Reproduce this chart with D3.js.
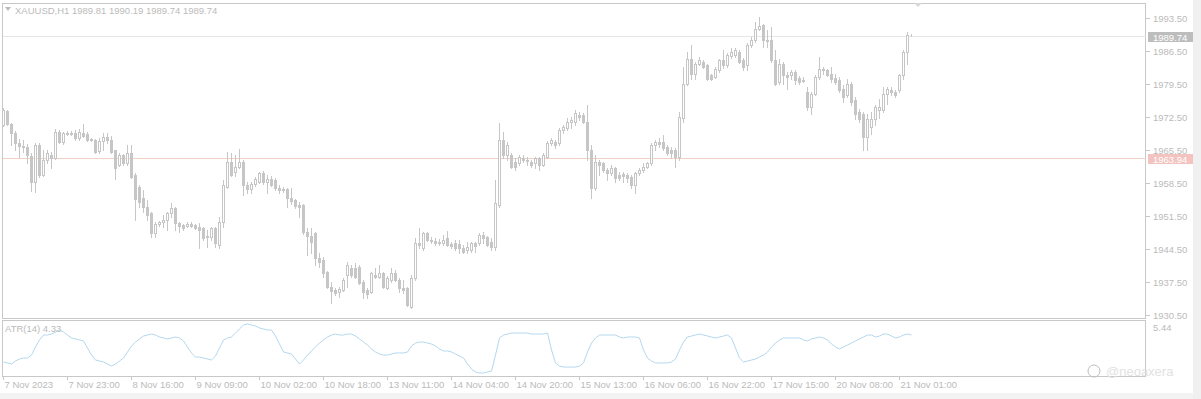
<!DOCTYPE html>
<html><head><meta charset="utf-8">
<script src="https://cdn.jsdelivr.net/npm/d3@7"></script>
<style>html,body{margin:0;padding:0;background:#fff;overflow:hidden}svg{display:block;font-family:"Liberation Sans",Arial,sans-serif}</style>
</head><body><svg id="c" width="1201" height="399"></svg>
<script>
const open=[1970.87,1973.84,1971.08,1969.17,1967.05,1966.41,1966.20,1964.29,1958.78,1966.62,1960.26,1963.44,1964.50,1963.87,1969.38,1967.26,1969.17,1968.96,1969.17,1968.11,1969.17,1968.96,1967.69,1967.69,1965.35,1967.47,1968.32,1967.69,1965.56,1962.38,1964.50,1962.81,1964.93,1960.26,1957.72,1955.38,1953.48,1952.20,1947.96,1949.87,1950.29,1950.72,1952.20,1953.26,1950.08,1949.66,1949.45,1949.87,1949.66,1949.23,1949.02,1947.11,1947.11,1949.02,1945.41,1950.29,1957.72,1963.02,1960.90,1961.96,1963.02,1958.14,1957.29,1958.35,1958.78,1960.69,1958.78,1959.41,1959.20,1957.51,1957.29,1957.29,1955.38,1954.96,1953.90,1953.90,1948.17,1947.32,1947.96,1942.66,1942.23,1939.69,1936.51,1935.87,1935.45,1935.87,1939.05,1940.54,1940.54,1940.75,1937.57,1935.87,1935.45,1939.05,1938.63,1939.47,1936.30,1937.99,1939.47,1937.99,1936.30,1936.30,1932.27,1938.42,1945.84,1944.78,1947.96,1946.48,1946.26,1946.05,1945.84,1946.90,1945.63,1945.84,1945.63,1944.78,1944.36,1944.36,1945.84,1945.84,1947.54,1947.11,1946.05,1944.99,1953.90,1967.69,1964.50,1964.50,1963.02,1962.81,1963.87,1963.44,1963.02,1962.81,1963.87,1962.38,1964.08,1967.05,1967.26,1967.05,1969.81,1970.23,1971.50,1971.50,1972.99,1972.99,1971.50,1965.56,1957.51,1963.02,1962.81,1961.32,1960.69,1961.75,1960.26,1960.47,1960.26,1959.84,1958.14,1960.69,1961.32,1961.96,1962.81,1966.62,1967.26,1967.26,1966.20,1965.56,1965.56,1964.08,1972.35,1979.56,1984.87,1981.68,1983.81,1984.23,1983.59,1981.47,1981.05,1982.53,1984.65,1983.59,1985.50,1985.71,1986.35,1984.65,1983.59,1987.84,1988.90,1991.23,1992.08,1988.90,1988.90,1984.65,1979.99,1983.81,1981.47,1981.47,1982.11,1980.84,1980.41,1977.87,1974.68,1977.44,1981.05,1982.75,1982.53,1981.68,1980.84,1980.41,1978.50,1977.23,1979.56,1976.17,1973.62,1973.20,1968.32,1970.44,1972.14,1974.05,1974.05,1977.44,1978.29,1977.87,1978.29,1981.47,1986.35,1989.81];
const high=[1974.47,1974.05,1971.29,1969.60,1967.90,1967.69,1966.84,1964.93,1967.05,1967.05,1965.56,1965.56,1965.14,1970.02,1969.81,1969.38,1969.60,1969.60,1969.81,1970.02,1971.08,1969.38,1968.11,1967.90,1968.11,1969.17,1969.17,1968.53,1965.56,1964.93,1964.72,1966.62,1966.62,1960.69,1958.14,1957.08,1954.96,1952.41,1950.29,1950.51,1951.78,1952.41,1954.32,1953.48,1950.29,1949.87,1950.29,1950.29,1949.87,1950.08,1949.23,1948.60,1949.23,1949.23,1951.35,1959.20,1965.14,1964.93,1964.50,1965.78,1963.44,1958.78,1958.78,1959.84,1960.90,1961.11,1960.26,1960.05,1959.63,1958.14,1957.72,1957.51,1957.51,1955.17,1954.54,1954.11,1949.02,1949.02,1948.17,1943.72,1942.87,1939.90,1937.57,1936.30,1936.51,1938.42,1941.81,1941.17,1941.60,1941.17,1937.99,1936.30,1939.69,1940.54,1941.17,1939.69,1938.84,1940.54,1940.11,1938.42,1937.99,1936.51,1939.05,1946.90,1949.02,1948.17,1948.17,1947.11,1946.90,1946.69,1947.54,1948.38,1946.05,1946.48,1946.48,1945.41,1946.05,1946.05,1946.05,1947.96,1948.17,1947.32,1946.90,1959.20,1971.29,1969.38,1967.26,1964.93,1963.87,1964.50,1964.50,1964.08,1963.44,1964.08,1964.08,1964.93,1967.47,1968.11,1967.69,1970.23,1970.87,1972.35,1972.56,1974.05,1973.62,1973.41,1975.11,1966.62,1964.50,1963.44,1963.02,1961.75,1962.38,1961.96,1960.90,1960.90,1960.69,1960.26,1960.90,1961.75,1962.81,1963.02,1967.05,1967.69,1968.11,1968.75,1966.62,1966.20,1965.99,1973.62,1983.17,1986.35,1987.84,1984.23,1985.29,1984.65,1983.81,1981.68,1983.17,1984.87,1986.78,1986.14,1987.20,1987.20,1986.78,1985.08,1988.26,1989.53,1992.71,1993.77,1992.29,1991.02,1991.65,1986.78,1984.87,1984.23,1982.11,1982.53,1982.53,1981.26,1981.05,1978.93,1977.87,1981.47,1985.29,1983.17,1982.75,1983.17,1981.68,1981.05,1979.35,1980.62,1979.99,1976.80,1974.26,1973.62,1973.20,1973.62,1975.11,1976.38,1978.93,1978.93,1978.93,1978.29,1981.68,1986.78,1990.59,1990.19];
const low=[1970.66,1970.87,1966.62,1965.56,1964.08,1965.14,1962.81,1956.87,1956.66,1959.84,1960.05,1962.81,1961.75,1963.66,1967.05,1966.84,1968.75,1968.75,1967.69,1967.69,1968.32,1967.47,1967.47,1964.93,1964.93,1965.56,1967.05,1964.93,1959.41,1962.17,1962.38,1962.38,1959.63,1950.72,1953.48,1952.41,1950.72,1947.11,1947.11,1949.45,1949.23,1948.60,1951.35,1948.60,1948.17,1948.60,1949.23,1949.23,1948.81,1944.78,1946.48,1944.99,1946.48,1944.99,1944.78,1949.23,1957.51,1960.05,1960.05,1961.75,1956.02,1956.45,1956.45,1957.93,1958.57,1958.35,1956.45,1957.93,1957.08,1956.45,1956.66,1953.48,1954.11,1953.26,1951.35,1947.75,1943.29,1943.72,1941.17,1940.75,1938.63,1936.30,1933.11,1934.81,1934.39,1935.66,1936.51,1938.63,1938.42,1937.15,1934.18,1934.18,1935.24,1938.42,1938.42,1936.30,1936.08,1937.57,1937.78,1935.45,1935.24,1932.48,1932.05,1937.99,1944.78,1944.36,1946.26,1945.84,1945.41,1945.41,1945.41,1945.20,1944.78,1944.36,1943.72,1943.72,1943.72,1943.93,1943.93,1945.41,1945.84,1945.20,1944.36,1944.36,1953.48,1963.87,1963.44,1961.75,1961.32,1962.38,1963.02,1962.38,1961.96,1961.75,1961.32,1962.17,1963.87,1966.62,1965.99,1966.62,1969.17,1969.81,1970.23,1970.87,1971.93,1971.29,1963.44,1955.38,1957.08,1960.26,1960.90,1959.20,1960.26,1958.78,1959.20,1958.78,1958.78,1957.51,1956.45,1960.26,1960.90,1961.75,1962.38,1965.56,1966.20,1965.56,1964.50,1963.87,1961.96,1963.44,1971.50,1979.35,1980.62,1980.62,1983.59,1982.96,1980.41,1980.41,1980.84,1982.11,1982.96,1983.17,1985.08,1985.29,1984.02,1982.53,1982.53,1987.41,1988.47,1991.02,1987.41,1987.41,1984.23,1979.35,1979.56,1979.56,1978.50,1980.62,1979.56,1979.56,1979.99,1974.05,1973.20,1977.23,1980.62,1981.68,1981.26,1979.99,1979.56,1977.87,1975.74,1976.80,1975.11,1972.14,1971.50,1965.56,1965.56,1968.96,1970.87,1972.35,1973.62,1975.32,1977.23,1976.80,1977.87,1980.62,1983.81,1989.74];
const close=[1974.05,1971.08,1969.17,1967.05,1966.41,1966.20,1964.50,1958.78,1966.62,1960.26,1963.44,1964.93,1963.87,1969.38,1967.26,1969.17,1968.96,1969.17,1968.11,1969.38,1968.53,1967.69,1967.90,1965.14,1967.47,1968.32,1967.69,1965.14,1961.75,1964.50,1962.81,1964.93,1959.84,1955.17,1954.54,1953.48,1951.78,1947.96,1949.87,1950.29,1950.72,1952.20,1953.26,1950.08,1949.45,1949.02,1949.87,1949.45,1949.02,1948.60,1946.90,1947.32,1949.02,1945.84,1950.29,1958.14,1963.02,1960.26,1961.96,1963.02,1958.14,1957.29,1958.35,1959.41,1960.69,1958.78,1959.41,1958.14,1957.51,1957.08,1957.08,1955.38,1954.75,1953.69,1953.48,1948.17,1947.32,1946.05,1942.66,1941.81,1939.47,1936.51,1935.66,1935.24,1936.08,1937.99,1941.17,1939.05,1938.63,1937.36,1935.45,1935.02,1939.47,1938.63,1939.47,1936.51,1938.42,1939.47,1937.99,1936.30,1935.87,1932.69,1938.42,1945.84,1945.41,1947.96,1946.48,1946.26,1945.84,1945.84,1946.48,1945.41,1945.20,1944.78,1944.78,1943.93,1944.99,1945.84,1945.20,1947.54,1946.90,1945.41,1944.99,1954.32,1967.69,1964.50,1966.62,1961.96,1961.96,1964.08,1963.44,1963.23,1962.38,1963.87,1962.38,1964.50,1967.05,1967.69,1966.62,1969.81,1970.44,1971.50,1971.93,1973.41,1972.56,1971.50,1965.56,1957.51,1963.02,1962.38,1961.32,1960.69,1961.75,1959.63,1959.63,1960.05,1959.63,1958.14,1960.69,1961.32,1961.96,1962.81,1966.62,1967.26,1966.84,1965.99,1964.93,1964.93,1964.08,1972.56,1979.56,1984.87,1981.68,1983.81,1984.65,1983.17,1980.62,1980.62,1982.75,1984.65,1983.59,1985.71,1986.35,1986.78,1984.23,1983.17,1987.84,1988.90,1991.23,1991.87,1988.90,1988.68,1984.65,1979.56,1983.81,1981.47,1981.05,1982.11,1980.41,1979.99,1980.20,1974.68,1977.44,1981.05,1982.75,1982.53,1981.47,1980.62,1979.99,1978.29,1976.80,1979.56,1975.74,1973.20,1972.14,1968.32,1972.14,1972.14,1974.68,1974.68,1977.44,1978.50,1977.87,1977.23,1981.47,1986.35,1989.96,1989.74];
const atr=[1.61,1.51,1.40,1.71,1.91,2.01,2.01,2.31,3.12,3.83,4.33,4.33,4.43,4.63,4.83,4.63,4.33,4.03,3.93,3.83,3.73,3.02,2.31,1.81,1.71,1.61,1.40,1.20,1.40,1.71,2.01,2.62,3.22,3.62,3.93,4.23,4.33,4.43,4.33,4.13,4.03,3.93,4.03,4.13,4.03,3.73,3.12,2.52,2.11,2.11,2.01,1.91,1.81,2.21,3.02,3.83,4.03,4.13,4.53,4.94,5.34,5.44,5.34,5.24,5.04,4.94,4.83,4.83,4.23,3.42,2.62,2.52,2.41,1.91,1.40,1.81,2.31,2.72,3.12,3.52,3.83,4.13,4.33,4.43,4.33,4.33,4.43,4.43,4.23,3.93,3.62,3.32,2.92,2.62,2.41,2.31,2.31,2.41,2.52,2.52,2.52,2.62,3.22,3.52,3.62,3.62,3.52,3.42,3.22,2.92,2.72,2.72,2.62,2.41,2.21,2.01,1.40,0.90,0.60,0.50,0.50,0.60,0.70,2.31,4.03,4.33,4.43,4.53,4.53,4.53,4.53,4.53,4.43,4.43,4.43,4.43,4.53,2.82,1.51,1.20,1.10,1.10,1.10,1.10,1.20,1.51,2.62,3.52,4.03,4.33,4.33,4.33,4.33,4.33,4.13,4.03,4.13,4.13,4.13,4.03,2.82,2.01,1.71,1.51,1.51,1.51,1.51,1.61,1.91,2.82,3.62,4.13,4.23,4.33,4.43,4.33,4.23,4.13,4.03,4.13,4.23,4.33,4.03,3.02,2.01,1.61,1.71,1.81,1.91,2.11,2.31,2.62,3.12,3.52,3.83,4.03,4.03,4.03,4.03,4.03,3.83,3.73,3.93,4.03,4.13,4.03,3.83,3.42,3.12,2.92,3.12,3.32,3.52,3.73,3.93,4.13,4.33,4.33,4.13,4.23,4.43,4.43,4.23,4.03,4.13,4.33,4.43,4.33];
const priceTicks=[1930.50,1937.50,1944.50,1951.50,1958.50,1965.50,1972.50,1979.50,1986.50,1993.50];
const timeLabels=["7 Nov 2023","7 Nov 23:00","8 Nov 16:00","9 Nov 09:00","10 Nov 02:00","10 Nov 18:00","13 Nov 11:00","14 Nov 04:00","14 Nov 20:00","15 Nov 13:00","16 Nov 06:00","16 Nov 22:00","17 Nov 15:00","20 Nov 08:00","21 Nov 01:00"];
const labelEvery=16;
const symbol="XAUUSD,H1", bid=1989.74, hline=1963.94, atrName="ATR(14)";
const watermark="@neoaxera";

const W=1201,H=399;
const L=2,R=1146,mTop=3,mBot=318,aTop=320,aBot=376;
const gray="#c6c6c6", txt="#bbbbbb";
const svg=d3.select("#c");
svg.append("rect").attr("width",W).attr("height",H).attr("fill","#ffffff");
svg.append("rect").attr("x",1193).attr("y",0).attr("width",8).attr("height",H).attr("fill","#f0f0f0");
svg.append("rect").attr("x",0).attr("y",393).attr("width",1193).attr("height",6).attr("fill","#f3f3f3");

const n=close.length;
const x=d3.scaleLinear().domain([0,1]).range([3.5,7.5]);
const y=d3.scaleLinear().domain([1930.5,1993.5]).range([315.3,18.3]);
const ya=d3.scaleLinear().domain(d3.extent(atr)).range([373,324]);
const idx=d3.range(n);

// frames
svg.append("rect").attr("x",L+0.5).attr("y",mTop+0.5).attr("width",R-L-1).attr("height",mBot-mTop).attr("fill","none").attr("stroke","#c8c8c8");
svg.append("rect").attr("x",L+0.5).attr("y",aTop+0.5).attr("width",R-L-1).attr("height",aBot-aTop).attr("fill","none").attr("stroke","#c8c8c8");

// horizontal lines
const yb=Math.round(y(bid))+0.5, yh=Math.round(y(hline))+0.5;
svg.append("line").attr("x1",L+1).attr("x2",R).attr("y1",yb).attr("y2",yb).attr("stroke","#e6e6e6");
svg.append("line").attr("x1",L+1).attr("x2",R).attr("y1",yh).attr("y2",yh).attr("stroke","#f0cfc4");

// price axis
const ax=svg.append("g").attr("font-size","9.5px").attr("fill",txt);
priceTicks.forEach(p=>{
  const yy=Math.round(y(p))+0.5;
  ax.append("line").attr("x1",R).attr("x2",R+4).attr("y1",yy).attr("y2",yy).attr("stroke","#c8c8c8");
  ax.append("text").attr("x",R+7).attr("y",yy+3).text(d3.format(".2f")(p));
});
// price labels
[[bid,"#bdbdbd"],[hline,"#f3c3c0"]].forEach(([p,c])=>{
  const yy=Math.round(y(p));
  svg.append("rect").attr("x",R+2).attr("y",yy-4).attr("width",45).attr("height",10).attr("fill",c);
  svg.append("text").attr("x",R+7).attr("y",yy+4.5).attr("font-size","9.5px").attr("fill","#ffffff").text(d3.format(".2f")(p));
});

// candles
const g=svg.append("g");
g.selectAll("line.w").data(idx).join("line").attr("class","w")
  .attr("x1",i=>x(i)).attr("x2",i=>x(i))
  .attr("y1",i=>Math.round(y(high[i]))).attr("y2",i=>Math.round(y(low[i]))+1)
  .attr("stroke",gray).attr("stroke-width",1);
g.selectAll("rect.b").data(idx).join("rect").attr("class","b")
  .attr("x",i=>x(i)-1).attr("width",2)
  .attr("y",i=>Math.round(y(Math.max(open[i],close[i])))+0.5)
  .attr("height",i=>Math.max(0,Math.round(y(Math.min(open[i],close[i])))-Math.round(y(Math.max(open[i],close[i])))))
  .attr("fill",i=>close[i]>=open[i]?"#ffffff":gray)
  .attr("stroke",gray).attr("stroke-width",1);

// ATR
svg.append("path").datum(idx).attr("fill","none").attr("stroke","#b3d8ee").attr("stroke-width",1)
  .attr("d",d3.line().x(i=>x(i)).y(i=>ya(atr[i])));
svg.append("text").attr("x",5).attr("y",332).attr("font-size","9.5px").attr("fill",txt).text(atrName+" "+atr[n-1].toFixed(2));
svg.append("text").attr("x",R+7).attr("y",331).attr("font-size","9.5px").attr("fill",txt).text(d3.max(atr).toFixed(2));

// time axis
const tg=svg.append("g").attr("font-size","9.5px").attr("fill",txt);
timeLabels.forEach((t,k)=>{
  const xx=x(k*labelEvery);
  tg.append("line").attr("x1",xx).attr("x2",xx).attr("y1",aBot).attr("y2",aBot+4).attr("stroke","#c8c8c8");
  tg.append("text").attr("x",xx+1).attr("y",388).text(t);
});

// header
svg.append("path").attr("d","M5,7 L11,7 L8,11 Z").attr("fill",txt);
svg.append("text").attr("x",15).attr("y",14).attr("font-size","9.5px").attr("fill",txt)
  .text(symbol+"  "+[open[n-1],high[n-1],low[n-1],close[n-1]].map(v=>v.toFixed(2)).join(" "));
svg.append("path").attr("d","M914,3 L922,3 L918,7 Z").attr("fill","#d8d8d8");

// watermark
svg.append("circle").attr("cx",1094).attr("cy",371).attr("r",6).attr("fill","none").attr("stroke","#bdbdbd").attr("stroke-width",1);
svg.append("text").attr("x",1106).attr("y",376).attr("font-size","13px").attr("fill","#e2e2e2").text(watermark);
</script></body></html>
